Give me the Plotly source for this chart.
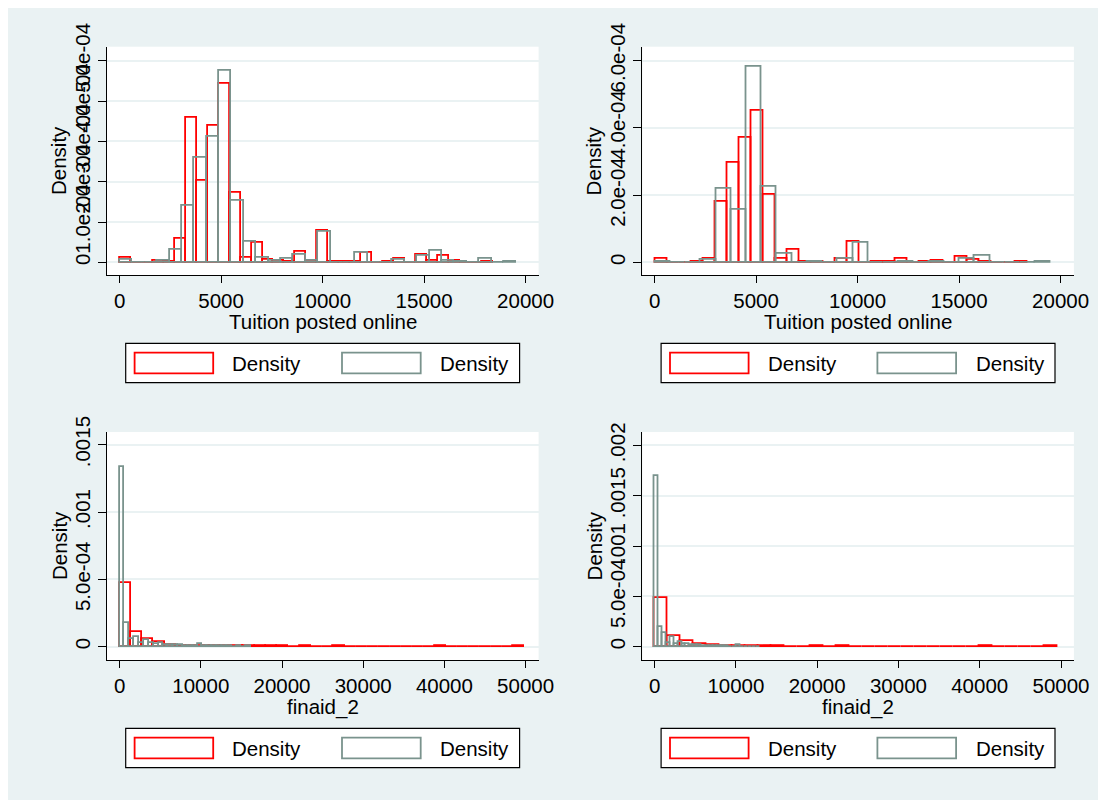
import plotly.graph_objects as go

# figure sits inside the page's 8px body margin
OFF = 8
W, H = 1090, 792

# ---------------- data (densities in units of 1e-4) ----------------
DENS_UNIT = 1e-4

# Panel 1: Tuition posted online
tuition_a_red_start, tuition_a_red_width = 20, 540
tuition_a_red = [0.11, 0, 0, 0.03, 0.02, 0.59, 3.59, 2.02, 3.38, 4.44, 1.73, 0.12, 0.49,
                 0.07, 0.04, 0.02, 0.26, 0.04, 0.78, 0.02, 0.02, 0.02, 0.25, 0, 0.02, 0.10,
                 0, 0.20, 0.03, 0.16, 0.03, 0, 0, 0.02]
tuition_a_gray_start, tuition_a_gray_width = 20, 610
tuition_a_gray = [0.07, 0, 0, 0.03, 0.32, 1.40, 2.60, 3.12, 4.75, 1.54, 0.51, 0.12, 0.03,
                  0.09, 0.18, 0.03, 0.76, 0, 0, 0.25, 0, 0, 0.06, 0, 0.17, 0.30, 0.04,
                  0.02, 0, 0.10, 0, 0.02]

# Panel 2: Tuition posted online
tuition_b_red_start, tuition_b_red_width = 20, 591
tuition_b_red = [0.12, 0, 0, 0.02, 0.10, 1.81, 2.95, 3.70, 4.50, 2.01, 0.10, 0.37, 0.02,
                 0.02, 0, 0.10, 0.62, 0, 0.02, 0.02, 0.12, 0, 0.02, 0.06, 0, 0.17, 0.08,
                 0.03, 0, 0, 0.02]
tuition_b_gray_start, tuition_b_gray_width = 20, 750
tuition_b_gray = [0.03, 0, 0, 0.08, 2.19, 1.58, 5.82, 2.26, 0.25, 0, 0.03, 0, 0.10, 0.59,
                  0, 0, 0.02, 0, 0.03, 0, 0.10, 0.20, 0, 0, 0, 0.02]

# Panel 3: finaid_2
finaid_a_red_start, finaid_a_red_width = 0, 1385
finaid_a_red = [4.75, 1.11, 0.57, 0.32, 0.15, 0.07, 0.05, 0.03, 0.03, 0.02, 0.02, 0.02,
                0.02, 0.02, 0.02, 0, 0.02, 0, 0, 0.02, 0, 0, 0, 0, 0, 0, 0, 0, 0.02,
                0, 0, 0, 0, 0, 0, 0.02]
finaid_a_gray_start, finaid_a_gray_width = 0, 600
finaid_a_gray = [13.36, 1.78, 0.57, 0.74, 0.30, 0.50, 0.25, 0.20, 0.25, 0.15, 0.10, 0.10,
                 0.10, 0.08, 0.05, 0.05, 0.20, 0.05, 0.03, 0.02, 0.02, 0.02, 0.02, 0,
                 0.02, 0, 0.02]

# Panel 4: finaid_2
finaid_b_red_start, finaid_b_red_width = 0, 1600
finaid_b_red = [4.81, 1.06, 0.57, 0.27, 0.17, 0.10, 0.08, 0.05, 0.03, 0.03, 0, 0, 0.03,
                0, 0.03, 0, 0, 0, 0, 0, 0, 0, 0, 0, 0, 0.03, 0, 0, 0, 0, 0.03]
finaid_b_gray_start, finaid_b_gray_width = 0, 480
finaid_b_gray = [16.97, 1.99, 1.40, 0.40, 0.95, 0.30, 0.50, 0.30, 0.25, 0.20, 0.20, 0.15,
                 0.10, 0.10, 0.08, 0.05, 0.05, 0.03, 0.03, 0.02, 0.02, 0.12, 0.02, 0.02,
                 0.02, 0, 0.02]

x_titles = ["Tuition posted online", "Tuition posted online", "finaid_2", "finaid_2"]
y_title = "Density"
legend_labels = ["Density", "Density"]

x_ticks_tuition = [0, 5000, 10000, 15000, 20000]
x_ticks_finaid = [0, 10000, 20000, 30000, 40000, 50000]
y_ticks = [
    ([0, 1e-4, 2e-4, 3e-4, 4e-4, 5e-4], ["0", "1.0e-04", "2.0e-04", "3.0e-04", "4.0e-04", "5.0e-04"]),
    ([0, 2e-4, 4e-4, 6e-4], ["0", "2.0e-04", "4.0e-04", "6.0e-04"]),
    ([0, 5e-4, 0.001, 0.0015], ["0", "5.0e-04", ".001", ".0015"]),
    ([0, 5e-4, 0.001, 0.0015, 0.002], ["0", "5.0e-04", ".001", ".0015", ".002"]),
]

# ---------------- styling / layout ----------------
RED = "#FF0000"
GRAY = "#7A938D"
BG = "#EAF2F3"
FONT_FAMILY = "Liberation Sans, Arial, Helvetica, sans-serif"
FS = 20.5

# plot-region boxes in page pixels (left, right, top, bottom)
boxes = [
    (107.0, 538.6, 46.7, 275.3),
    (642.4, 1073.9, 46.7, 275.3),
    (107.0, 538.6, 432.0, 660.0),
    (642.4, 1073.9, 432.0, 660.0),
]
x_ranges = [(-621, 20640), (-601, 20655), (-1552, 51600), (-1501, 51587)]
y_ranges = [(-0.3226e-4, 5.35e-4), (-0.387e-4, 6.417e-4), (-0.987e-4, 15.94e-4), (-1.322e-4, 21.34e-4)]

series = [
    ((tuition_a_red_start, tuition_a_red_width, tuition_a_red),
     (tuition_a_gray_start, tuition_a_gray_width, tuition_a_gray)),
    ((tuition_b_red_start, tuition_b_red_width, tuition_b_red),
     (tuition_b_gray_start, tuition_b_gray_width, tuition_b_gray)),
    ((finaid_a_red_start, finaid_a_red_width, finaid_a_red),
     (finaid_a_gray_start, finaid_a_gray_width, finaid_a_gray)),
    ((finaid_b_red_start, finaid_b_red_width, finaid_b_red),
     (finaid_b_gray_start, finaid_b_gray_width, finaid_b_gray)),
]


def px_x(p):
    return (p - OFF) / W


def px_y(p):
    return 1 - (p - OFF) / H


fig = go.Figure()
layout = {}
for i, (box, (red, gray)) in enumerate(zip(boxes, series)):
    n = i + 1
    xa = "x" if n == 1 else f"x{n}"
    ya = "y" if n == 1 else f"y{n}"
    for (start, width, vals), col in ((red, RED), (gray, GRAY)):
        centers = [start + width * (k + 0.5) for k in range(len(vals))]
        fig.add_trace(go.Bar(
            x=centers, y=[v * DENS_UNIT for v in vals], width=[width] * len(vals),
            marker=dict(color="rgba(0,0,0,0)", line=dict(color=col, width=1.8)),
            xaxis=xa, yaxis=ya, showlegend=False, hoverinfo="skip"))
    l, r, t, b = box
    xt = x_ticks_tuition if i < 2 else x_ticks_finaid
    yv, ytxt = y_ticks[i]
    layout["xaxis" if n == 1 else f"xaxis{n}"] = dict(
        domain=[px_x(l), px_x(r)], range=list(x_ranges[i]), anchor=ya,
        tickvals=xt, ticktext=[str(v) for v in xt], showgrid=False, zeroline=False,
        showline=True, linecolor="black", linewidth=1.3, ticks="outside", ticklen=7,
        tickwidth=1.3, tickcolor="black",
        tickfont=dict(family=FONT_FAMILY, size=FS, color="black"), fixedrange=True)
    layout["yaxis" if n == 1 else f"yaxis{n}"] = dict(
        domain=[px_y(b), px_y(t)], range=list(y_ranges[i]), anchor=xa,
        tickvals=yv, ticktext=ytxt, tickangle=-90, showgrid=True, gridcolor=BG,
        gridwidth=1.5, zeroline=False, showline=True, linecolor="black", linewidth=1.3,
        ticks="outside", ticklen=8, tickwidth=1.3, tickcolor="black",
        tickfont=dict(family=FONT_FAMILY, size=FS, color="black"), fixedrange=True)

shapes = []
annotations = []
for i, box in enumerate(boxes):
    l, r, t, b = box
    cx = (l + r) / 2
    cy = (t + b) / 2
    annotations.append(dict(text=x_titles[i], x=px_x(cx), y=px_y(b + 46.5), xref="paper",
                            yref="paper", showarrow=False, xanchor="center", yanchor="middle",
                            font=dict(family=FONT_FAMILY, size=FS, color="black")))
    annotations.append(dict(text=y_title, x=px_x(l - 48), y=px_y(cy), xref="paper",
                            yref="paper", showarrow=False, xanchor="center", yanchor="middle",
                            textangle=-90,
                            font=dict(family=FONT_FAMILY, size=FS, color="black")))
    dx = l - 107.0
    ly0 = b + 68 if i < 2 else b + 68.3
    ly1 = ly0 + 39.4
    shapes.append(dict(type="rect", xref="paper", yref="paper", x0=px_x(125.7 + dx),
                       x1=px_x(519.6 + dx), y0=px_y(ly1), y1=px_y(ly0), fillcolor="white",
                       line=dict(color="black", width=1.2)))
    lcy = (ly0 + ly1) / 2
    for kx0, kx1, tx, col, lab in [(134.6, 213.2, 230.4, RED, legend_labels[0]),
                                   (342.0, 420.7, 438.2, GRAY, legend_labels[1])]:
        shapes.append(dict(type="rect", xref="paper", yref="paper", x0=px_x(kx0 + dx),
                           x1=px_x(kx1 + dx), y0=px_y(lcy + 10.3), y1=px_y(lcy - 10.3),
                           fillcolor="white", line=dict(color=col, width=1.8)))
        annotations.append(dict(text=lab, x=px_x(tx + dx), y=px_y(lcy), xref="paper",
                                yref="paper", showarrow=False, xanchor="left",
                                yanchor="middle",
                                font=dict(family=FONT_FAMILY, size=FS, color="black")))

fig.update_layout(
    width=W, height=H, margin=dict(l=0, r=0, t=0, b=0, autoexpand=False),
    paper_bgcolor=BG, plot_bgcolor="white", barmode="overlay", bargap=0,
    showlegend=False, shapes=shapes, annotations=annotations, **layout)

fig.write_html("out.html")
